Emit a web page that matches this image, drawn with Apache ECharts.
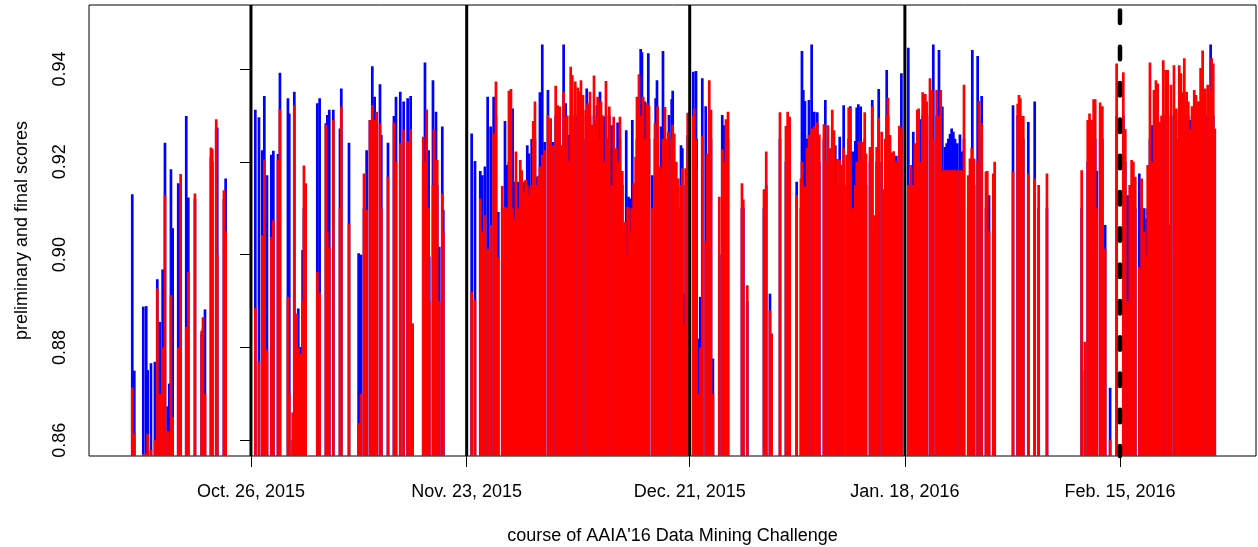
<!DOCTYPE html>
<html><head><meta charset="utf-8">
<script src="https://cdn.jsdelivr.net/npm/echarts@6/dist/echarts.min.js"></script>
<style>html,body{margin:0;padding:0;background:#fff}#c{width:1258px;height:547px}</style>
</head><body><div id="c"></div>
<script>
// days relative to Oct. 26, 2015
const submissionDay = [
-15.28,-15.02,-13.86,-13.48,-13.30,-12.87,-12.36,-12.06,-11.75,-11.37,-11.07,-10.72,-10.52,-10.30,-10.08,-9.36,-9.05,-8.33,-8.07,-7.21,-6.35,-6.18,-5.92,-5.15,-4.98,-4.47,-4.34,-3.48,-3.26,
0.56,1.03,1.46,1.72,2.06,2.62,2.88,3.48,3.73,4.76,4.93,5.37,5.58,5.88,6.09,6.39,6.65,6.82,7.04,8.54,8.84,9.65,9.83,10.08,10.60,11.46,11.63,12.62,13.86,14.16,14.55,14.89,15.32,15.62,15.92,16.18,16.61,16.78,17.64,18.41,18.67,19.22,19.66,20.17,20.56,20.81,22.18,22.40,22.62,22.87,22.95,23.43,23.56,23.82,23.98,24.24,24.63,24.76,
28.41,28.84,29.52,29.78,30.12,30.47,30.86,31.24,31.54,31.84,32.35,32.70,32.96,33.21,33.47,33.90,34.11,34.41,34.67,34.85,35.14,35.36,35.57,35.79,35.96,36.14,36.34,36.56,36.78,37.20,37.50,37.81,38.23,38.58,38.88,39.23,39.48,39.74,40.25,40.51,40.94,41.16,41.36,41.54,41.75,42.06,42.22,
42.48,42.74,43.09,43.22,43.34,43.64,44.16,44.37,44.54,44.63,44.93,45.06,45.23,45.40,45.70,46.13,46.43,46.69,47.03,47.20,47.50,48.15,48.31,48.49,48.60,48.70,48.76,49.09,49.27,49.52,49.69,49.95,50.17,50.33,50.50,50.72,50.98,51.15,51.24,51.66,52.01,52.10,52.27,52.35,52.65,52.78,53.04,53.30,53.72,53.81,54.16,54.29,54.49,55.01,55.36,55.53,55.75,55.96,56.22,
56.94,57.07,57.29,57.37,57.58,57.84,58.10,58.54,58.74,59.00,59.22,59.47,60.29,60.67,60.93,61.15,61.41,63.21,63.38,63.89,66.04,66.33,66.81,67.03,68.10,68.87,69.09,69.35,
70.25,70.80,70.93,71.10,71.32,71.83,72.18,72.52,72.90,73.16,73.76,73.94,74.28,74.50,74.83,75.05,75.22,75.48,75.79,76.08,76.30,76.69,76.95,77.15,77.46,77.80,77.98,78.19,78.31,78.49,78.66,79.01,79.17,79.69,79.98,80.33,80.55,80.81,81.19,81.49,81.84,82.01,82.27,82.74,83.08,83.47,83.73,
84.62,84.96,85.26,85.48,85.78,85.95,86.12,86.47,86.81,86.98,87.41,87.67,87.84,88.27,88.57,88.79,89.00,89.34,89.56,89.77,89.99,90.20,90.42,90.63,90.93,91.27,91.49,91.79,92.34,92.56,92.78,92.86,93.08,93.55,93.72,94.07,94.62,94.79,95.01,95.56,95.74,
98.10,98.70,98.87,99.04,99.42,100.07,100.89,101.40,102.47,106.94,107.36,107.72,107.95,108.20,108.48,108.68,108.89,109.32,109.60,109.96,110.60,
111.44,112.30,112.55,112.86,113.37,113.59,113.84,114.36,114.66,115.31,115.44,115.73,115.95,116.25,116.50,116.73,117.00,117.44,117.75,118.01,118.31,118.44,118.82,119.12,119.50,119.72,120.15,120.45,120.88,121.43,121.65,121.82,122.25,122.51,122.85,123.16,123.54,123.67,123.88,124.07,
// further submissions read from the dense parts
33.68,37.00,40.00,40.72,43.90,45.92,47.80,53.50,54.75,71.58,81.66,82.50,83.28,113.12,115.00,117.22,119.93,120.66,121.15,122.04,122.68
];
const prelimScore = [
.9130,.8750,.8888,.8889,.8751,.8766,.8769,.8947,.8855,.8968,.9241,.8673,.8722,.9184,.9057,.9154,.9150,.9299,.9123,.9120,.8830,.8840,.8882,.9210,.9200,.9270,.9274,.9120,.9164,
.9312,.9296,.9225,.9342,.9171,.9215,.9224,.9217,.9392,.9337,.9304,.8600,.9351,.8860,.8884,.8801,.9010,.9100,.9100,.9326,.9337,.9283,.9301,.9312,.9312,.9272,.9358,.9241,.9003,.9000,.9100,.9225,.9290,.9406,.9340,.9265,.9367,.9258,.9241,.9299,.9340,.9351,.9330,.9337,.9342,.8840,.9200,.9414,.9250,.9225,.8996,.9376,.9200,.9308,.9150,.9017,.9276,.9096,
.9261,.9202,.9180,.9171,.9190,.9340,.9276,.9340,.9300,.9092,.9100,.9288,.9193,.9200,.9315,.9157,.9150,.9157,.9150,.9100,.9157,.9100,.9236,.9218,.9100,.9249,.9200,.9250,.9168,.9350,.9453,.9243,.9355,.9240,.9243,.9300,.9250,.9225,.9453,.9326,.9258,.9300,.9300,.9250,.9300,.9300,.9300,
.9300,.9300,.9250,.9358,.9300,.9300,.9300,.9250,.9322,.9300,.9351,.9300,.9250,.9297,.9300,.9300,.9279,.9250,.9200,.9285,.9250,.9050,.9268,.9050,.9125,.9050,.9121,.9290,.9100,.9150,.9250,.9300,.9443,.9436,.9300,.9330,.9250,.9434,.9250,.9171,.9250,.9337,.9376,.9250,.9150,.9276,.9439,.9250,.9200,.9301,.9335,.9353,.9200,.9100,.9236,.9229,.8916,.9150,.9258,
.9394,.9300,.9396,.9250,.8819,.8909,.9380,.9320,.9200,.9300,.9250,.8776,.9000,.9301,.9279,.9250,.9250,.9100,.9100,.8900,.9100,.9150,.8916,.8800,.9250,.9200,.9250,.9250,
.9157,.9100,.9439,.9355,.9331,.9333,.9453,.9308,.9307,.9200,.9250,.9333,.9200,.9222,.9250,.9200,.9236,.9150,.9254,.9150,.9322,.9150,.9250,.9320,.9222,.9245,.9317,.9324,.9200,.9319,.9200,.9250,.9150,.9200,.9333,.9050,.9200,.9357,.9200,.9100,.9398,.9300,.9200,.9150,.9213,.9250,.9391,
.9446,.9150,.9265,.9200,.9250,.9250,.9292,.9300,.9300,.9250,.9300,.9300,.9453,.9300,.9441,.9300,.9319,.9232,.9240,.9250,.9260,.9272,.9265,.9250,.9240,.9259,.9222,.9250,.9100,.9150,.9200,.9441,.9150,.9428,.9250,.9342,.9100,.9100,.9128,.9100,.9150,
.9322,.9300,.9300,.9300,.9250,.9286,.9330,.9100,.9100,.9100,.8750,.9200,.9200,.9200,.9250,.9250,.9181,.9250,.9250,.9064,.8713,
.9300,.9300,.9200,.9128,.9150,.9150,.9100,.9175,.9100,.9078,.9100,.9250,.9279,.9250,.9300,.9300,.9200,.9300,.9300,.9300,.9064,.9300,.9300,.9250,.9300,.9300,.9300,.9300,.9290,.9300,.9300,.9300,.9300,.9300,.9300,.9300,.9453,.9300,.9300,.9270,
.9315,.9150,.9200,.9250,.9250,.9250,.9150,.9230,.9150,.9250,.9200,.9200,.9200,.9100,.9100,.9250,.9300,.9300,.9300,.9300,.9300
];
const finalScore = [
.8714,.8615,.8570,.8572,.8613,.8580,.8600,.8927,.8700,.8800,.9128,.8620,.8600,.8913,.8650,.8800,.9174,.8844,.8963,.9132,.8836,.8865,.8700,.9231,.9228,.9292,.9000,.9139,.9050,
.8885,.8769,.9042,.9205,.8796,.9038,.9074,.9204,.9313,.8909,.8700,.8660,.9322,.8873,.8800,.8787,.8900,.9192,.9154,.8963,.8918,.9280,.9050,.9015,.9290,.9100,.9319,.9067,.8637,.8700,.9175,.9096,.9290,.9322,.9290,.9308,.9283,.9100,.9168,.9285,.9200,.9240,.9268,.9245,.9270,.8852,.9254,.9200,.9313,.9100,.8900,.9150,.9270,.9204,.9204,.8900,.9132,.9050,
.8920,.8902,.9121,.9050,.9085,.9013,.9064,.9261,.9373,.8995,.9148,.9103,.9100,.9353,.9357,.9078,.9222,.9100,.9204,.9182,.9135,.9161,.9150,.9130,.9143,.9150,.9288,.9330,.9150,.9190,.9215,.9225,.9301,.9294,.9236,.9364,.9322,.9319,.9351,.9286,.9200,.9405,.9387,.9283,.9373,.9360,.9351,
.9376,.9344,.9312,.9250,.9326,.9351,.9386,.9290,.9250,.9340,.9250,.9330,.9301,.9200,.9374,.9319,.9150,.9297,.9229,.9200,.9297,.9071,.9000,.9103,.9000,.9100,.9050,.9100,.9154,.9211,.9340,.9389,.9300,.9250,.9340,.9250,.9326,.9300,.9322,.9100,.9283,.9200,.9250,.9319,.9190,.9150,.9250,.9318,.9265,.9200,.9250,.9280,.9261,.9164,.9150,.9186,.8850,.9186,.9306,
.9300,.9315,.9250,.9182,.8700,.8800,.9256,.9028,.9218,.9376,.9312,.8700,.9125,.9227,.9200,.9292,.9308,.9154,.9119,.8934,.9141,.9222,.8880,.8830,.9307,.9277,.9308,.9297,
.9128,.9164,.9200,.9150,.9146,.9258,.9272,.9276,.9285,.9259,.9281,.9200,.9279,.9229,.9312,.9268,.9150,.9206,.9204,.9193,.9229,.9215,.9317,.9315,.9100,.9150,.9200,.9200,.9245,.9200,.9243,.9307,.9218,.9232,.9319,.9085,.9232,.9295,.9265,.9141,.9300,.9338,.9258,.9223,.9202,.9278,.9272,
.9150,.9193,.9150,.9240,.9312,.9315,.9200,.9350,.9346,.9330,.9380,.9355,.9250,.9355,.9300,.9355,.9182,.9182,.9182,.9182,.9182,.9182,.9182,.9182,.9182,.9182,.9182,.9366,.9171,.9207,.9229,.9200,.9207,.9200,.9331,.9283,.9179,.9180,.9050,.9175,.9200,
.9179,.9325,.9344,.9337,.9299,.9175,.9164,.9150,.9175,.9182,.8812,.9290,.9304,.9290,.9335,.9335,.9100,.9328,.9320,.9013,.8600,
.9412,.9393,.9271,.8900,.9204,.9200,.9168,.8973,.9164,.9000,.9193,.9414,.9200,.9355,.9376,.9369,.9286,.9419,.9398,.9398,.9000,.9366,.9408,.9315,.9408,.9391,.9423,.9351,.9270,.9355,.9344,.9330,.9402,.9440,.9358,.9366,.9350,.9423,.9412,.9272,
.9100,.9170,.9236,.9300,.9280,.9250,.9180,.9250,.9200,.9230,.9250,.9220,.9180,.9150,.9050,.9300,.9350,.9330,.9320,.9330,.9340
];
const eventDays = [0, 27.77, 56.48, 84.18, 111.87];
const eventLabels = ['Oct. 26, 2015', 'Nov. 23, 2015', 'Dec. 21, 2015', 'Jan. 18, 2016', 'Feb. 15, 2016'];
const eventDashed = [false, false, false, false, true];
const yTicks = [0.86, 0.88, 0.90, 0.92, 0.94];
const xTitle = "course of AAIA'16 Data Mining Challenge";
const yTitle = 'preliminary and final scores';

const Y_MIN = 0.8566, Y_MAX = 0.9538, X_MIN = -20.85, X_MAX = 129.38;
const FONT = "'Liberation Sans', Arial, Helvetica, sans-serif";

function stemSeries(values, color) {
  return {
    type: 'custom',
    data: submissionDay.map((d, i) => [d, values[i]]),
    encode: { x: 0, y: 1 },
    clip: true, silent: true, animation: false,
    renderItem: function (params, api) {
      const x = api.value(0), y = api.value(1);
      const top = api.coord([x, y]);
      const bot = api.coord([x, Y_MIN]);
      return { type: 'line', shape: { x1: top[0], y1: bot[1], x2: top[0], y2: top[1] },
               style: { stroke: color, lineWidth: 2.7, lineCap: 'butt' } };
    }
  };
}

const chart = echarts.init(document.getElementById('c'), null, { renderer: 'canvas' });
chart.setOption({
  animation: false,
  backgroundColor: '#fff',
  grid: { left: 89, right: 2, top: 5, bottom: 91, containLabel: false, outerBoundsMode: 'none',
          show: true, borderColor: '#000', borderWidth: 1, backgroundColor: 'transparent' },
  xAxis: {
    type: 'value', min: X_MIN, max: X_MAX,
    splitLine: { show: false }, axisLine: { show: false },
    axisTick: { show: true, customValues: eventDays, length: 11, lineStyle: { color: '#000', width: 1 } },
    axisLabel: { customValues: eventDays, fontSize: 18, color: '#000', margin: 27, fontFamily: FONT,
      formatter: function (v) {
        let bi = 0; eventDays.forEach((d, i) => { if (Math.abs(d - v) < Math.abs(eventDays[bi] - v)) bi = i; });
        return eventLabels[bi];
      } },
    name: xTitle, nameLocation: 'middle', nameGap: 71,
    nameTextStyle: { fontSize: 18, color: '#000', fontFamily: FONT }
  },
  yAxis: {
    type: 'value', min: Y_MIN, max: Y_MAX,
    splitLine: { show: false }, axisLine: { show: false },
    axisTick: { show: true, customValues: yTicks, length: 11, lineStyle: { color: '#000', width: 1 } },
    axisLabel: { customValues: yTicks, rotate: 90, fontSize: 18, color: '#000', margin: 20, fontFamily: FONT,
      formatter: v => v.toFixed(2) },
    name: yTitle, nameLocation: 'middle', nameRotate: 90, nameGap: 58,
    nameTextStyle: { fontSize: 18, color: '#000', fontFamily: FONT }
  },
  series: [
    stemSeries(prelimScore, '#0000ff'),
    stemSeries(finalScore, '#ff0000'),
    {
      type: 'custom', silent: true, animation: false,
      data: eventDays.map((d, i) => [d, Y_MAX, i]),
      encode: { x: 0, y: 1 },
      renderItem: function (params, api) {
        const d = api.value(0), i = api.value(2);
        const top = api.coord([d, Y_MAX]);
        const bot = api.coord([d, Y_MIN]);
        const dashed = eventDashed[i];
        return { type: 'line', shape: { x1: top[0], y1: top[1], x2: top[0], y2: bot[1] },
          style: dashed
            ? { stroke: '#000', lineWidth: 4.5, lineDash: [12.5, 23.8], lineDashOffset: 30.8, lineCap: 'round' }
            : { stroke: '#000', lineWidth: 3, lineCap: 'butt' } };
      }
    }
  ]
});
</script>
</body></html>
